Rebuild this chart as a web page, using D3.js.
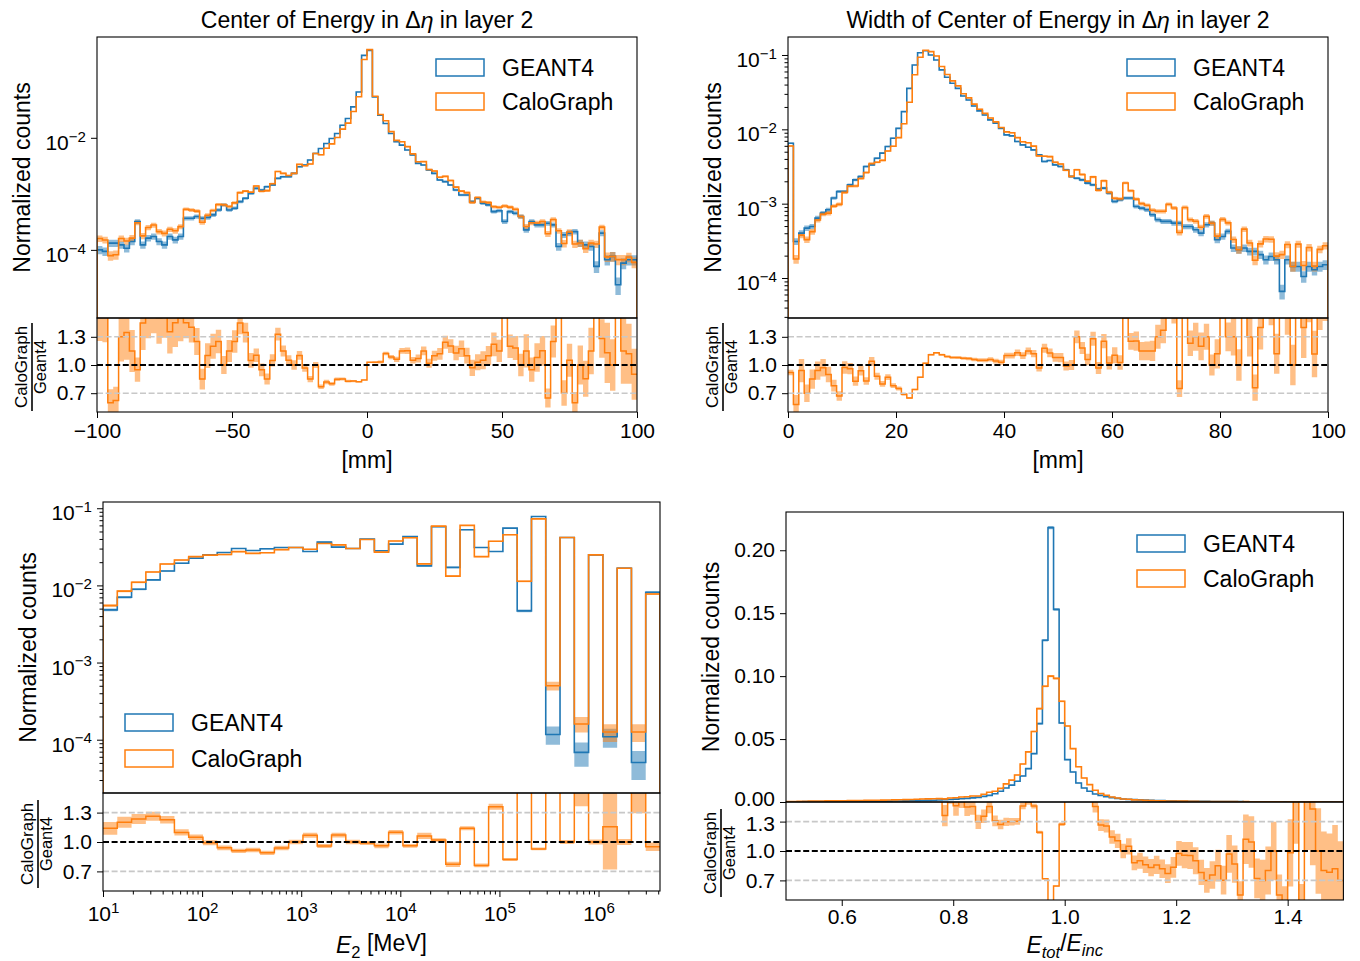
<!DOCTYPE html>
<html><head><meta charset="utf-8">
<script src="https://cdn.jsdelivr.net/npm/d3@7"></script>
<style>
body{margin:0;background:#fff}
svg{display:block}
text{font-family:"Liberation Sans",Arial,Helvetica,sans-serif}
</style></head>
<body><svg id="c" width="1360" height="961"></svg>
<script>
// ---------------- DATA ----------------
// Panel 1: Center of Energy in Δη, layer 2 (100 bins, -100..100 mm)
const CE_RANGE = [-100, 100];
const CE_G4 = [1.0e-4,9.4e-5,1.32e-4,1.32e-4,1.23e-4,1.07e-4,1.41e-4,3.2e-4,1.23e-4,1.62e-4,
 1.73e-4,1.41e-4,1.23e-4,1.73e-4,1.51e-4,1.73e-4,3.67e-4,3.67e-4,3.93e-4,3.67e-4,
 3.78e-4,4.21e-4,5.16e-4,6.34e-4,5.16e-4,5.53e-4,7.26e-4,8.33e-4,1.02e-3,1.25e-3,
 1.17e-3,1.34e-3,1.44e-3,1.89e-3,2.02e-3,2.02e-3,2.32e-3,3.05e-3,3.27e-3,4.01e-3,
 5.26e-3,6.46e-3,7.93e-3,9.73e-3,1.19e-2,1.68e-2,2.21e-2,3.56e-2,6.58e-2,0.296,
 0.363,5.37e-2,2.53e-2,1.8e-2,1.19e-2,8.49e-3,7.41e-3,6.04e-3,4.92e-3,3.49e-3,
 3.27e-3,2.66e-3,2.32e-3,1.77e-3,1.65e-3,1.44e-3,1.17e-3,9.55e-4,9.55e-4,7.26e-4,
 8.33e-4,6.79e-4,6.34e-4,4.82e-4,5.0e-4,3.2e-4,4.82e-4,4.51e-4,3.93e-4,2.27e-4,
 3.2e-4,2.79e-4,2.79e-4,2.99e-4,2.79e-4,1.15e-4,1.85e-4,1.99e-4,2.12e-4,1.32e-4,
 1.23e-4,1.15e-4,5.07e-5,1.99e-4,6.65e-5,7.64e-5,2.39e-5,5.81e-5,6.65e-5,6.65e-5];
const CE_CALO = [1.6e-4,1.5e-4,7.9e-5,8.2e-5,1.6e-4,1.44e-4,1.62e-4,3.04e-4,1.78e-4,2.51e-4,
 2.77e-4,2.12e-4,1.97e-4,2.34e-4,2.19e-4,2.6e-4,5.32e-4,5.14e-4,4.91e-4,3.12e-4,
 4.16e-4,5.05e-4,6.45e-4,6.34e-4,5.93e-4,6.91e-4,1.05e-3,1.12e-3,1.07e-3,1.38e-3,
 1.11e-3,1.14e-3,1.51e-3,2.51e-3,2.32e-3,2.12e-3,2.32e-3,3.36e-3,3.17e-3,3.41e-3,
 5.26e-3,4.97e-3,6.5e-3,7.78e-3,1.01e-2,1.43e-2,1.83e-2,2.95e-2,5.4e-2,0.249,
 0.374,5.53e-2,2.61e-2,2.02e-2,1.29e-2,9.0e-3,8.52e-3,6.95e-3,5.17e-3,3.73e-3,
 3.76e-3,2.71e-3,2.55e-3,1.98e-3,2.05e-3,1.73e-3,1.32e-3,1.12e-3,1.05e-3,7.04e-4,
 8.58e-4,7.13e-4,6.97e-4,5.88e-4,5.75e-4,6.08e-4,5.78e-4,5.32e-4,3.93e-4,2.61e-4,
 3.04e-4,3.01e-4,3.21e-4,1.94e-4,3.49e-4,2.19e-4,1.3e-4,2.09e-4,1.27e-4,1.32e-4,
 1.05e-4,1.32e-4,1.27e-4,2.55e-4,7.51e-5,7.64e-5,6.69e-5,6.68e-5,7.45e-5,5.99e-5];

// Panel 2: Width of Center of Energy in Δη, layer 2 (100 bins, 0..100 mm)
const WD_RANGE = [0, 100];
const WD_G4 = [6.5e-3,3.1e-4,4.02e-4,4.69e-4,4.94e-4,6.4e-4,7.46e-4,8.28e-4,1.19e-3,1.46e-3,
 1.46e-3,1.79e-3,2.09e-3,2.32e-3,3.16e-3,3.33e-3,4.09e-3,4.78e-3,5.87e-3,7.59e-3,
 1.03e-2,1.73e-2,3.56e-2,7.34e-2,0.107,0.114,0.1,8.57e-2,6.3e-2,5.01e-2,
 4.16e-2,3.56e-2,2.81e-2,2.48e-2,2.06e-2,1.77e-2,1.56e-2,1.34e-2,1.21e-2,1.03e-2,
 8.41e-3,8.16e-3,6.85e-3,6.18e-3,5.75e-3,5.3e-3,4.53e-3,3.69e-3,3.8e-3,3.33e-3,
 3.16e-3,2.85e-3,2.32e-3,2.2e-3,2.09e-3,1.89e-3,1.79e-3,1.57e-3,1.62e-3,1.39e-3,
 1.07e-3,1.13e-3,1.19e-3,1.19e-3,9.17e-4,8.71e-4,8.28e-4,7.08e-4,6.07e-4,5.77e-4,
 5.77e-4,5.47e-4,5.47e-4,4.94e-4,4.94e-4,4.46e-4,4.02e-4,5.2e-4,5.47e-4,3.27e-4,
 3.62e-4,4.24e-4,2.53e-4,2.4e-4,2.53e-4,2.28e-4,2.28e-4,2.06e-4,1.76e-4,1.95e-4,
 1.76e-4,6.61e-5,1.76e-4,1.43e-4,1.43e-4,1.05e-4,1.43e-4,1.29e-4,1.43e-4,1.51e-4];
const WD_CALO = [5.98e-3,1.8e-4,3.78e-4,3.28e-4,4.2e-4,6.02e-4,7.24e-4,7.45e-4,9.28e-4,9.78e-4,
 1.42e-3,1.72e-3,1.73e-3,2.18e-3,2.62e-3,3.46e-3,3.6e-3,3.82e-3,5.11e-3,5.92e-3,
 7.73e-3,1.19e-2,2.31e-2,5.43e-2,9.31e-2,0.116,0.111,9.68e-2,6.99e-2,5.46e-2,
 4.49e-2,3.84e-2,3.01e-2,2.65e-2,2.18e-2,1.86e-2,1.64e-2,1.42e-2,1.26e-2,1.06e-2,
 9.25e-3,8.98e-3,7.74e-3,6.8e-3,6.61e-3,5.94e-3,4.39e-3,4.35e-3,4.29e-3,3.6e-3,
 3.41e-3,2.82e-3,2.32e-3,2.86e-3,2.47e-3,2.0e-3,2.29e-3,1.52e-3,2.03e-3,1.42e-3,
 1.18e-3,1.16e-3,1.9e-3,1.49e-3,1.15e-3,1.0e-3,9.52e-4,8.14e-4,7.89e-4,7.9e-4,
 9.81e-4,8.75e-4,4.1e-4,8.89e-4,6.08e-4,5.8e-4,4.82e-4,6.76e-4,5.47e-4,3.66e-4,
 6.15e-4,5.51e-4,3.29e-4,2.4e-4,4.55e-4,2.96e-4,1.73e-4,2.88e-4,3.34e-4,3.32e-4,
 1.97e-4,2.06e-4,2.82e-4,1.43e-4,2.86e-4,1.47e-4,2.57e-4,1.44e-4,2.43e-4,2.72e-4];

// Panel 3: E2 [MeV] (39 log bins)
const E2_RANGE = [10, 4.17e6];
const E2_G4 = [4.81e-3,7.03e-3,8.91e-3,1.18e-2,1.54e-2,1.94e-2,2.25e-2,2.49e-2,2.67e-2,3.01e-2,
 2.83e-2,2.98e-2,3.1e-2,3.1e-2,2.75e-2,3.64e-2,3.13e-2,3.01e-2,3.98e-2,2.81e-2,
 3.43e-2,4.31e-2,1.79e-2,5.75e-2,1.71e-2,5.26e-2,3.1e-2,2.75e-2,5.52e-2,4.67e-3,
 7.83e-2,1.17e-4,4.18e-2,6.84e-5,2.49e-2,1.09e-4,1.67e-2,5.06e-5,8.15e-3];
const E2_CALO = [5.48e-3,8.44e-3,1.10e-2,1.49e-2,1.89e-2,2.13e-2,2.36e-2,2.47e-2,2.51e-2,2.74e-2,
 2.60e-2,2.65e-2,2.91e-2,3.1e-2,2.94e-2,3.49e-2,3.35e-2,3.01e-2,3.94e-2,2.70e-2,
 3.77e-2,4.14e-2,1.90e-2,5.87e-2,1.32e-2,6.0e-2,2.36e-2,3.74e-2,4.53e-2,1.13e-2,
 7.28e-2,5.0e-4,4.18e-2,1.6e-4,2.49e-2,1.26e-4,1.67e-2,1.26e-4,7.75e-3];

// Panel 4: Etot/Einc (100 bins, 0.5..1.5)
const ET_RANGE = [0.5, 1.5];
const ET_G4 = [0.0002,0.0002,0.0002,0.0003,0.0003,0.0003,0.0003,0.0004,0.0004,0.0004,
 0.0004,0.0005,0.0005,0.0005,0.0006,0.0006,0.0006,0.0007,0.0007,0.0008,
 0.0008,0.0009,0.0010,0.0011,0.0012,0.0013,0.0014,0.0016,0.0018,0.0020,
 0.0023,0.0026,0.0029,0.0033,0.0037,0.0045,0.0053,0.0065,0.0085,0.0111,
 0.0134,0.0165,0.0207,0.0265,0.0384,0.0623,0.1285,0.218,0.153,0.0628,
 0.0337,0.0238,0.0151,0.0111,0.0085,0.0064,0.0053,0.0043,0.0035,0.0029,
 0.0024,0.0021,0.0019,0.0017,0.0015,0.0013,0.0012,0.0011,0.0010,0.0009,
 0.0008,0.0007,0.00065,0.0006,0.00055,0.0005,0.00045,0.0004,0.00037,0.00034,
 0.0003,0.00028,0.00025,0.00022,0.0002,0.00018,0.00016,0.00015,0.00013,0.00012,
 0.00011,0.0001,0.00009,0.00008,0.00007,0.00007,0.00006,0.00006,0.00005,0.00005];
const ET_CALO = [0.00045,0.00045,0.00046,0.00065,0.00066,0.00068,0.0007,0.00088,0.0009,0.00092,
 0.00095,0.0011,0.0011,0.00115,0.0013,0.00135,0.0014,0.0015,0.00155,0.0017,
 0.00175,0.0019,0.0020,0.0022,0.0024,0.0025,0.0026,0.0027,0.00245,0.0032,
 0.00336,0.0040,0.0042,0.0048,0.0048,0.0061,0.0077,0.0085,0.0108,0.0144,
 0.0174,0.0215,0.0302,0.0398,0.056,0.0742,0.092,0.100,0.0982,0.080,
 0.0604,0.0424,0.028,0.0191,0.0138,0.0093,0.0067,0.0054,0.0040,0.0032,
 0.0024,0.0022,0.00167,0.00153,0.00129,0.00108,0.00103,0.0009,0.00077,0.00075,
 0.00078,0.00067,0.00062,0.00054,0.00043,0.00035,0.00034,0.00034,0.00026,0.00033,
 0.00026,0.000154,0.00028,0.00024,0.000144,0.000126,0.000128,0.00015,0.0000715,0.000054,
 0.000108,0.00016,0.00004,0.000128,0.0001,0.00007,0.000048,0.000047,0.000041,0.000035];

// effective event counts used for Poisson uncertainty bands
const EVENTS = {ce: 350000, wd: 300000, e2: 120000, et: 150000};

const SERIES = ["GEANT4", "CaloGraph"];
const RATIO_TICKS = [0.7, 1.0, 1.3];

// ---------------- DRAWING ----------------
const svg = d3.select("#c");
const defs = svg.append("defs");
const C_G4 = "#1f77b4", C_CALO = "#ff7f0e";
const TICK_FS = 21, LABEL_FS = 23;
const minus = s => String(s).replace("-", "\u2212");

function linEdges(range, n){
  const s = d3.scaleLinear().domain([0, n]).range(range);
  return d3.range(n + 1).map(s);
}
function logEdges(range, n){
  const s = d3.scaleLog().domain(range).range([0, n]);
  return d3.range(n + 1).map(i => s.invert(i));
}
function supLabels(sel){
  sel.selectAll(".tick text").each(function(d){
    const t = d3.select(this);
    const e = Math.round(Math.log10(d));
    t.text(null);
    t.append("tspan").text("10");
    t.append("tspan").attr("dy", "-0.55em").attr("font-size", "0.72em").text(e < 0 ? "\u2212" + (-e) : e);
  });
}
function minorLog(domain){
  const out = [];
  const lo = Math.floor(Math.log10(domain[0])), hi = Math.ceil(Math.log10(domain[1]));
  for (let k = lo; k <= hi; k++) for (let m = 2; m <= 9; m++) {
    const v = m * Math.pow(10, k);
    if (v >= domain[0] && v <= domain[1]) out.push(v);
  }
  return out;
}

function drawPanel(o){
  const g = svg.append("g");
  const x = (o.xLog ? d3.scaleLog() : d3.scaleLinear()).domain(o.xDomain).range([o.left, o.right]);
  const y = (o.yLog ? d3.scaleLog() : d3.scaleLinear()).domain(o.yDomain).range([o.mid, o.top]);
  const yr = d3.scaleLinear().domain([0.5, 1.5]).range([o.bot, o.mid]);
  const n = o.g4.length;
  const edges = o.edges;

  defs.append("clipPath").attr("id", o.id + "m").append("rect")
    .attr("x", o.left).attr("y", o.top).attr("width", o.right - o.left).attr("height", o.mid - o.top);
  defs.append("clipPath").attr("id", o.id + "r").append("rect")
    .attr("x", o.left).attr("y", o.mid).attr("width", o.right - o.left).attr("height", o.bot - o.mid);

  const gm = g.append("g").attr("clip-path", `url(#${o.id}m)`);
  const gr = g.append("g").attr("clip-path", `url(#${o.id}r)`);

  const floor = o.yLog ? o.yDomain[0] / 10 : 0;
  const band = vals => edges.map((e, i) => {
    const v = vals[Math.min(i, n - 1)];
    const err = Math.sqrt(v / o.N);
    return {e, lo: Math.max(v - err, floor), hi: v + err};
  });
  const area = d3.area().curve(d3.curveStepAfter)
    .x(d => x(d.e)).y0(d => y(d.lo)).y1(d => y(d.hi));
  gm.append("path").attr("d", area(band(o.g4))).attr("fill", C_G4).attr("opacity", 0.5);
  gm.append("path").attr("d", area(band(o.calo))).attr("fill", C_CALO).attr("opacity", 0.5);

  const baseY = o.yLog ? o.mid + 10 : y(0);
  const histPts = vals => {
    const pts = [[x(edges[0]), baseY]];
    vals.forEach((v, i) => { pts.push([x(edges[i]), y(v)]); pts.push([x(edges[i + 1]), y(v)]); });
    pts.push([x(edges[n]), baseY]);
    return pts;
  };
  const line = d3.line();
  gm.append("path").attr("d", line(histPts(o.g4))).attr("fill", "none").attr("stroke", C_G4).attr("stroke-width", 1.6);
  gm.append("path").attr("d", line(histPts(o.calo))).attr("fill", "none").attr("stroke", C_CALO).attr("stroke-width", 1.6);

  // ratio
  const rat = edges.map((e, i) => {
    const k = Math.min(i, n - 1);
    const a = o.calo[k], b = o.g4[k];
    const r = a / b;
    const rel = Math.sqrt(1 / (a * o.N) + 1 / (b * o.N));
    return {e, r, lo: r * (1 - rel), hi: r * (1 + rel)};
  });
  gr.append("path").attr("d", d3.area().curve(d3.curveStepAfter).x(d => x(d.e)).y0(d => yr(d.lo)).y1(d => yr(d.hi))(rat))
    .attr("fill", C_CALO).attr("opacity", 0.5);
  [0.7, 1.3].forEach(v => g.append("line").attr("x1", o.left).attr("x2", o.right).attr("y1", yr(v)).attr("y2", yr(v))
    .attr("stroke", "#c8c8c8").attr("stroke-width", 1.6).attr("stroke-dasharray", "6,2.6"));
  g.append("line").attr("x1", o.left).attr("x2", o.right).attr("y1", yr(1)).attr("y2", yr(1))
    .attr("stroke", "#000").attr("stroke-width", 1.8).attr("stroke-dasharray", "6,2.6");
  gr.append("path").attr("d", d3.line().curve(d3.curveStepAfter).x(d => x(d.e)).y(d => yr(d.r))(rat))
    .attr("fill", "none").attr("stroke", C_CALO).attr("stroke-width", 1.5);

  // frames
  g.append("rect").attr("x", o.left).attr("y", o.top).attr("width", o.right - o.left).attr("height", o.mid - o.top)
    .attr("fill", "none").attr("stroke", "#000").attr("stroke-width", 1.1);
  g.append("rect").attr("x", o.left).attr("y", o.mid).attr("width", o.right - o.left).attr("height", o.bot - o.mid)
    .attr("fill", "none").attr("stroke", "#000").attr("stroke-width", 1.1);

  const style = a => a.attr("font-family", "Liberation Sans, Arial, sans-serif").attr("font-size", TICK_FS)
    .call(s => s.select(".domain").remove());

  // main y axis
  const ya = g.append("g").attr("transform", `translate(${o.left},0)`)
    .call(d3.axisLeft(y).tickValues(o.yMajor).tickSize(6).tickPadding(5)
      .tickFormat(o.yLog ? null : d3.format(".2f")));
  style(ya);
  if (o.yLog) { supLabels(ya); ya.selectAll(".tick text").attr("dy", "0.55em"); }
  if (o.yMinor) {
    g.append("g").attr("transform", `translate(${o.left},0)`)
      .call(d3.axisLeft(y).tickValues(minorLog(o.yDomain)).tickSize(3.5).tickFormat(""))
      .call(s => s.select(".domain").remove());
  }
  // ratio y axis
  const ra = g.append("g").attr("transform", `translate(${o.left},0)`)
    .call(d3.axisLeft(yr).tickValues(RATIO_TICKS).tickSize(6).tickPadding(5).tickFormat(d3.format(".1f")));
  style(ra);
  if (o.nudge) {
    // keep the "0.00" label of the main axis clear of the ratio's "1.3" label
    ya.selectAll(".tick text").filter(d => d === 0).attr("y", -3);
    ra.selectAll(".tick text").filter(d => d === 1.3).attr("y", 2);
  }
  // x axis
  const xa = g.append("g").attr("transform", `translate(0,${o.bot})`)
    .call(d3.axisBottom(x).tickValues(o.xTicks).tickSize(6).tickPadding(o.xPad)
      .tickFormat(o.xLog ? null : (d => minus(d3.format(o.xFmt)(d)))));
  style(xa);
  if (o.xLog) {
    supLabels(xa);
    g.append("g").attr("transform", `translate(0,${o.bot})`)
      .call(d3.axisBottom(x).tickValues(minorLog(o.xDomain)).tickSize(3.5).tickFormat(""))
      .call(s => s.select(".domain").remove());
  }

  // y label
  g.append("text").attr("transform", `translate(${o.left - 75},${(o.top + o.mid) / 2}) rotate(-90)`)
    .attr("text-anchor", "middle").attr("dominant-baseline", "central").attr("font-size", LABEL_FS)
    .text("Normalized counts");
  // ratio label as fraction
  const rc = (o.mid + o.bot) / 2 + 2;
  g.append("text").attr("transform", `translate(${o.left - 76},${rc}) rotate(-90)`)
    .attr("text-anchor", "middle").attr("dominant-baseline", "central").attr("font-size", 17).text(SERIES[1]);
  g.append("text").attr("transform", `translate(${o.left - 57},${rc}) rotate(-90)`)
    .attr("text-anchor", "middle").attr("dominant-baseline", "central").attr("font-size", 16.5).text("Geant4");
  g.append("line").attr("x1", o.left - 65).attr("x2", o.left - 65).attr("y1", rc - 44).attr("y2", rc + 44)
    .attr("stroke", "#000").attr("stroke-width", 1.6);

  // x label
  const xl = g.append("text").attr("x", (o.left + o.right) / 2).attr("y", o.xLabelY)
    .attr("text-anchor", "middle").attr("font-size", LABEL_FS);
  o.xLabel(xl);

  // title
  if (o.title) {
    const t = g.append("text").attr("x", (o.left + o.right) / 2).attr("y", o.top - 9)
      .attr("text-anchor", "middle").attr("font-size", LABEL_FS);
    t.append("tspan").text("Center of Energy in \u0394");
    t.append("tspan").attr("font-style", "italic").text("\u03b7");
    t.append("tspan").text(" in layer 2");
    if (o.title === "width") t.insert("tspan", ":first-child").text("Width of ");
  }

  // legend
  const cols = [C_G4, C_CALO];
  SERIES.forEach((s, i) => {
    const yy = o.legY + i * o.legDy;
    g.append("rect").attr("x", o.legX).attr("y", yy - 8.5).attr("width", 48).attr("height", 17)
      .attr("fill", "none").attr("stroke", cols[i]).attr("stroke-width", 1.5);
    g.append("text").attr("x", o.legX + 66).attr("y", yy).attr("dominant-baseline", "central")
      .attr("font-size", LABEL_FS).text(s);
  });
}

drawPanel({
  id: "p1", left: 97, right: 637, top: 37, mid: 318, bot: 412,
  xDomain: CE_RANGE, edges: linEdges(CE_RANGE, CE_G4.length), xTicks: [-100, -50, 0, 50, 100], xFmt: "d", xPad: 5,
  yLog: true, yDomain: [Math.pow(10, -5.216), Math.pow(10, -0.201)], yMajor: [1e-2, 1e-4], yMinor: false,
  g4: CE_G4, calo: CE_CALO, N: EVENTS.ce, title: "center",
  xLabelY: 468, xLabel: t => t.text("[mm]"),
  legX: 436, legY: 67.5, legDy: 34
});
drawPanel({
  id: "p2", left: 788, right: 1328, top: 37, mid: 318, bot: 412,
  xDomain: WD_RANGE, edges: linEdges(WD_RANGE, WD_G4.length), xTicks: [0, 20, 40, 60, 80, 100], xFmt: "d", xPad: 5,
  yLog: true, yDomain: [Math.pow(10, -4.538), Math.pow(10, -0.758)], yMajor: [1e-1, 1e-2, 1e-3, 1e-4], yMinor: true,
  g4: WD_G4, calo: WD_CALO, N: EVENTS.wd, title: "width",
  xLabelY: 468, xLabel: t => t.text("[mm]"),
  legX: 1127, legY: 67.5, legDy: 34
});
drawPanel({
  id: "p3", left: 103, right: 660, top: 502, mid: 793, bot: 891,
  xLog: true, xDomain: E2_RANGE, edges: logEdges(E2_RANGE, E2_G4.length), xTicks: [1e1, 1e2, 1e3, 1e4, 1e5, 1e6], xPad: 9,
  yLog: true, yDomain: [Math.pow(10, -4.691), Math.pow(10, -0.919)], yMajor: [1e-1, 1e-2, 1e-3, 1e-4], yMinor: true,
  g4: E2_G4, calo: E2_CALO, N: EVENTS.e2,
  xLabelY: 953, xLabel: t => {
    t.append("tspan").attr("font-style", "italic").text("E");
    t.append("tspan").attr("font-size", "0.72em").attr("dy", "0.3em").text("2");
    t.append("tspan").attr("dy", "-0.3em").text(" [MeV]");
  },
  legX: 125, legY: 722.5, legDy: 36
});
drawPanel({
  id: "p4", left: 786, right: 1343.4, top: 512, mid: 802, bot: 900,
  xDomain: ET_RANGE, edges: linEdges(ET_RANGE, ET_G4.length), xTicks: [0.6, 0.8, 1.0, 1.2, 1.4], xFmt: ".1f", xPad: 3,
  yLog: false, yDomain: [0, 0.2304], yMajor: [0, 0.05, 0.10, 0.15, 0.20], nudge: true,
  g4: ET_G4, calo: ET_CALO, N: EVENTS.et,
  xLabelY: 953, xLabel: t => {
    t.append("tspan").attr("font-style", "italic").text("E");
    t.append("tspan").attr("font-style", "italic").attr("font-size", "0.72em").attr("dy", "0.3em").text("tot");
    t.append("tspan").attr("dy", "-0.3em").text("/");
    t.append("tspan").attr("font-style", "italic").text("E");
    t.append("tspan").attr("font-style", "italic").attr("font-size", "0.72em").attr("dy", "0.3em").text("inc");
  },
  legX: 1137, legY: 543.5, legDy: 35
});
</script>
</body></html>
